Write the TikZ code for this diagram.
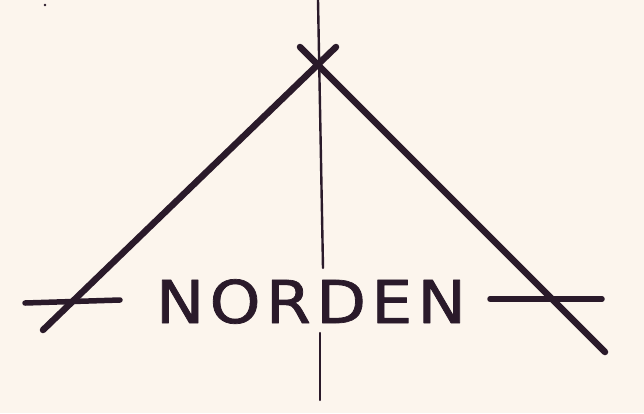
\documentclass[tikz,border=0pt]{standalone}
\usepackage{fontspec}
\newfontfamily\nordfont[LetterSpace=8,FakeBold=1.2]{DejaVu Sans}
\usepackage{tikz}

\definecolor{paper}{RGB}{252,245,237}
\definecolor{ink}{RGB}{42,26,42}

\begin{document}
\begin{tikzpicture}[
			x=1pt,
			y=-1pt,
			line cap=round,
			line join=round,
			leg/.style={draw=ink,line width=6.5pt},
			axis/.style={draw=ink,line width=2.4pt}
			]
			
			% Paper
			\fill[paper] (0,0) rectangle (644,413);
			\useasboundingbox (0,0) rectangle (644,413);
			\fill[ink] (45,5) circle (1.3);
			
			% Points
			\coordinate (TopAxis) at (318,0);
			\coordinate (MidAxis) at (323,268);
			\coordinate (LowAxisA) at (320,333);
			\coordinate (LowAxisB) at (320,400);
			\coordinate (LeftFoot) at (43,330);
			\coordinate (LeftTip) at (336,47);
			\coordinate (RightTip) at (300,47);
			\coordinate (RightFoot) at (605,352);
			\coordinate (LeftBarA) at (25,303);
			\coordinate (LeftBarB) at (120,300);
			\coordinate (RightBarA) at (490,299);
			\coordinate (RightBarB) at (602,299);
			
			% Axis
			\draw[axis] (TopAxis) -- (MidAxis);
			\draw[axis] (LowAxisA) -- (LowAxisB);
			
			% Legs
			\draw[leg] (LeftFoot) -- (LeftTip);
			\draw[leg] (RightTip) -- (RightFoot);
			
			% Bars
			\draw[leg,line width=5.5pt] (LeftBarA) -- (LeftBarB);
			\draw[leg,line width=5.5pt] (RightBarA) -- (RightBarB);
			
			% Name
			\node[anchor=base,inner sep=0pt,text=ink,xscale=1.1,
			font=\nordfont\fontsize{59}{59}\selectfont] (Name) at (311,323) {NORDEN};
			
		\end{tikzpicture}
\end{document}
